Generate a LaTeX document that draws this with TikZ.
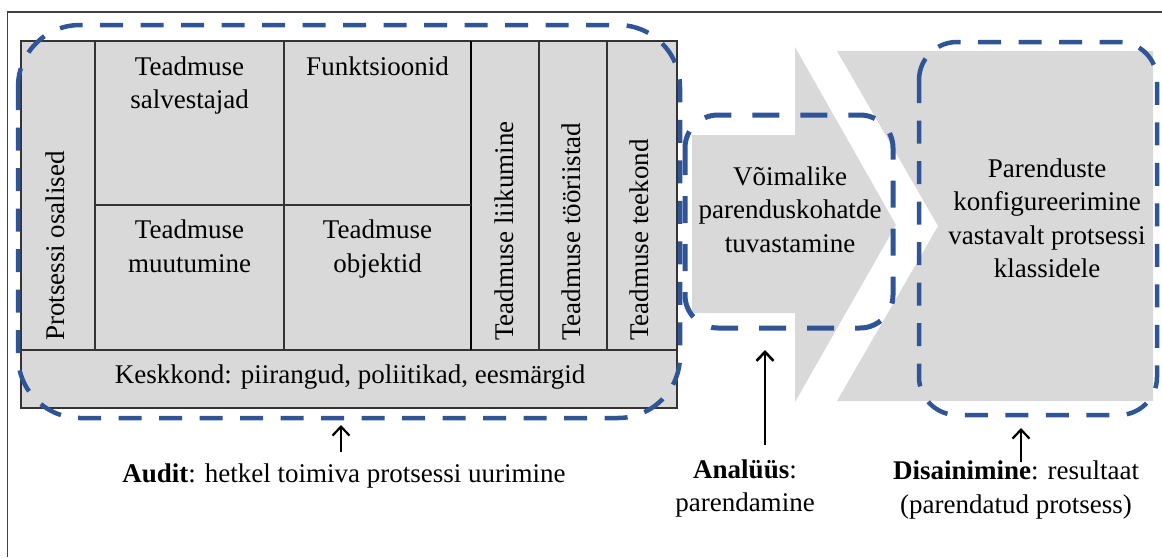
\documentclass[tikz,border=0pt]{standalone}
\usepackage{fontspec}
\setmainfont{Liberation Serif}
\usetikzlibrary{arrows.meta}
\definecolor{cellgray}{HTML}{D9D9D9}
\definecolor{dashblue}{HTML}{2F5597}

\begin{document}
\begin{tikzpicture}[x=1pt,y=-1pt,
  lbl/.style={font=\fontsize{27}{33.5}\selectfont, inner sep=0pt, align=center},
  vlbl/.style={font=\fontsize{27}{33.5}\selectfont, inner sep=0pt, rotate=90, anchor=west},
  grid/.style={draw=black!80, line width=1.1pt},
  frame/.style={draw=black!75, line width=1.2pt},
  phase/.style={draw=dashblue, line width=4.5pt, dash pattern=on 23pt off 17.5pt},
  pointer/.style={draw=black, line width=2.2pt, -{Straight Barb[length=9pt,width=17pt]}}
]
\useasboundingbox (0,0) rectangle (1162,557);

% outer frame (top and left edges)
\draw[frame] (1162,12) -- (7.5,12) -- (7.5,557);

% audit table
\fill[cellgray] (21,41) rectangle (677,408);
\draw[grid] (21,41) rectangle (677,408);
\draw[grid] (21,350) -- (677,350);
\draw[grid] (95,41) -- (95,350);
\draw[grid] (284,41) -- (284,350);
\draw[grid, draw=black, line width=1.6pt] (471,41) -- (471,350);
\draw[grid] (539,41) -- (539,350);
\draw[grid] (607,41) -- (607,350);
\draw[grid] (95,205) -- (471,205);

\node[lbl] (salv) at (189.5,85.3) {\strut Teadmuse\\salvestajad\strut};
\node[lbl] (funk) at (377.5,68.3) {\strut Funktsioonid\strut};
\node[lbl] (muut) at (189.5,249) {\strut Teadmuse\\muutumine\strut};
\node[lbl] (obj) at (377.5,249) {\strut Teadmuse\\objektid\strut};
\node[lbl] (kesk) at (350,377) {\strut Keskkond: piirangud, poliitikad, eesmärgid\strut};
\node[vlbl] (osal) at (58,341) {\strut Protsessi osalised};
\node[vlbl] (liik) at (507,341) {\strut Teadmuse liikumine};
\node[vlbl] (tool) at (574,341) {\strut Teadmuse tööriistad};
\node[vlbl] (teek) at (642,341) {\strut Teadmuse teekond};

% analysis arrow and design chevron
\fill[cellgray] (692,135) -- (795,135) -- (795,47) -- (896,225) -- (795,402) -- (795,313) -- (692,313) -- cycle;
\fill[cellgray] (837,51) -- (1153,51) -- (1153,401) -- (837,401) -- (938,226) -- cycle;

\node[lbl] (voim) at (790,212) {\strut Võimalike\\parenduskohatde\\tuvastamine\strut};
\node[lbl] (konf) at (1047,220.6) {\strut Parenduste\\konfigureerimine\\vastavalt protsessi\\klassidele\strut};

% phase outlines
\draw[phase, rounded corners=62pt] (18,25) rectangle (680,418);
\draw[phase, line width=5pt, dash pattern=on 27pt off 21pt, rounded corners=33pt] (685,115) rectangle (893,328);
\draw[phase, rounded corners=38pt] (919,42) rectangle (1157,415);

% phase captions
\node[lbl] (audit) at (344,476) {\strut\textbf{Audit}: hetkel toimiva protsessi uurimine\strut};
\node[lbl] (anal) at (745,488.5) {\strut\textbf{Analüüs}:\\parendamine\strut};
\node[lbl] (dis) at (1016,490) {\strut\textbf{Disainimine}: resultaat\\(parendatud protsess)\strut};

\coordinate (auditTail) at (341,452);
\coordinate (auditTip) at (341,425);
\coordinate (analTail) at (765,445);
\coordinate (analTip) at (765,350);
\coordinate (disTail) at (1021,462);
\coordinate (disTip) at (1021,428);
\draw[pointer] (auditTail) -- (auditTip);
\draw[pointer, line width=2.6pt] (analTail) -- (analTip);
\draw[pointer] (disTail) -- (disTip);
\end{tikzpicture}
\end{document}
